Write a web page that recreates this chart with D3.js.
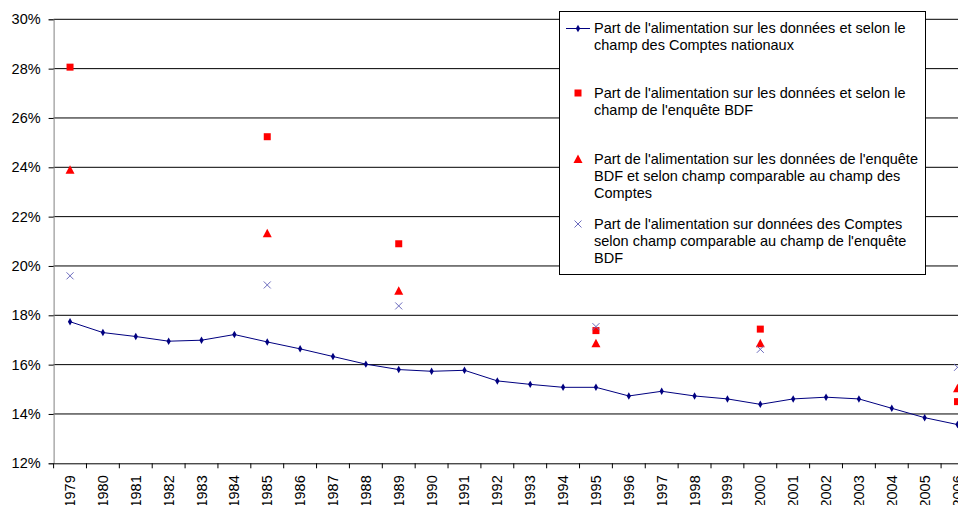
<!DOCTYPE html>
<html>
<head>
<meta charset="utf-8">
<script src="https://cdn.jsdelivr.net/npm/d3@7"></script>
<style>
  body { margin: 0; background: #fff; overflow: hidden; }
  svg { display: block; font-family: "Liberation Sans", Arial, sans-serif; }
</style>
</head>
<body>
<div id="chart"></div>
<script>
// categories
var years = [1979, 1980, 1981, 1982, 1983, 1984, 1985, 1986, 1987, 1988, 1989, 1990, 1991, 1992,
             1993, 1994, 1995, 1996, 1997, 1998, 1999, 2000, 2001, 2002, 2003, 2004, 2005, 2006];
// Comptes nationaux (%), one value per year
var comptesNat = [17.74, 17.30, 17.14, 16.95, 16.99, 17.22, 16.92, 16.64, 16.33, 16.02, 15.80, 15.73, 15.77, 15.34,
                  15.20, 15.08, 15.08, 14.73, 14.92, 14.73, 14.61, 14.39, 14.61, 14.68, 14.61, 14.23, 13.85, 13.57];
// survey years (enquete BDF)
var bdfYears = [1979, 1985, 1989, 1995, 2000, 2006];
var bdfChampBdf = [28.06, 25.24, 20.90, 17.38, 17.44, 14.50];
var bdfChampComptes = [23.90, 21.33, 19.00, 16.87, 16.87, 15.04];
var comptesChampBdf = [19.60, 19.23, 18.38, 17.54, 16.62, 15.89];
var yTicks = [12, 14, 16, 18, 20, 22, 24, 26, 28, 30];

var legendLabels = [
    ["Part de l'alimentation sur les données et selon le", "champ des Comptes nationaux"],
    ["Part de l'alimentation sur les données et selon le", "champ de l'enquête BDF"],
    ["Part de l'alimentation sur les données de l'enquête", "BDF et selon champ comparable au champ des", "Comptes"],
    ["Part de l'alimentation sur données des Comptes", "selon champ comparable au champ de l'enquête", "BDF"]
];

var width = 958,
    height = 505,
    plotLeft = 53.6,
    plotTop = 19.3,
    plotBottom = 463.3,
    bandW = 32.87,
    fontFam = '"Liberation Sans", Arial, sans-serif';

var navy = '#000080',
    red = '#ff0000',
    crossColor = '#6b6bbd';

var svg = d3.select('#chart').append('svg').attr('width', width).attr('height', height);

var x = d3.scaleBand().domain(years).range([plotLeft, plotLeft + bandW * years.length]).padding(0);
var y = d3.scaleLinear().domain([12, 30]).range([plotBottom, plotTop]);
var cx = function(yr) { return x(yr) + x.bandwidth() / 2; };

// gridlines
svg.append('g').selectAll('line').data(yTicks.slice(1)).enter().append('line')
    .attr('x1', plotLeft).attr('x2', width)
    .attr('y1', function(d) { return y(d); }).attr('y2', function(d) { return y(d); })
    .attr('stroke', '#000').attr('stroke-width', 1);

// y axis
var yAxis = d3.axisLeft(y).tickValues(yTicks).tickSize(5).tickPadding(8)
    .tickFormat(function(d) { return d + '%'; });
var gy = svg.append('g').attr('transform', 'translate(' + plotLeft + ',0)').call(yAxis);
gy.select('.domain').attr('stroke', '#808080');
gy.selectAll('.tick line').attr('stroke', '#000');
gy.selectAll('text').attr('font-size', 14.5).attr('fill', '#000').attr('font-family', fontFam);

// x axis: labels at centers, ticks at category boundaries
var xAxis = d3.axisBottom(x).tickSize(0).tickPadding(0);
var gx = svg.append('g').attr('transform', 'translate(0,' + plotBottom + ')').call(xAxis);
gx.select('.domain').attr('stroke', '#000');
gx.selectAll('text')
    .attr('font-size', 14.5).attr('fill', '#000').attr('font-family', fontFam)
    .attr('text-anchor', 'end')
    .attr('transform', 'translate(5,12) rotate(-90)')
    .attr('dy', 0).attr('y', 0).attr('x', 0);
gx.selectAll('.bound').data(years).enter().append('line')
    .attr('class', 'bound')
    .attr('x1', function(d) { return x(d); }).attr('x2', function(d) { return x(d); })
    .attr('y1', 0).attr('y2', 5).attr('stroke', '#000');

// Comptes nationaux line
var line = d3.line().x(function(d, i) { return cx(years[i]); }).y(function(d) { return y(d); });
svg.append('path').datum(comptesNat).attr('d', line)
    .attr('fill', 'none').attr('stroke', navy).attr('stroke-width', 1);
var diamond = d3.symbol().type(d3.symbolDiamond).size(16);
svg.append('g').selectAll('path').data(comptesNat).enter().append('path')
    .attr('d', diamond)
    .attr('transform', function(d, i) { return 'translate(' + cx(years[i]) + ',' + y(d) + ')'; })
    .attr('fill', navy);

// markers
function squareAt(g, px, py) {
    g.append('rect').attr('x', px - 3.5).attr('y', py - 3.5).attr('width', 7).attr('height', 7).attr('fill', red);
}
function triangleAt(g, px, py) {
    g.append('path').attr('d', 'M' + px + ',' + (py - 4.5) + 'L' + (px + 4.5) + ',' + (py + 4) + 'L' + (px - 4.5) + ',' + (py + 4) + 'Z')
        .attr('fill', red);
}
function crossAt(g, px, py) {
    g.append('path').attr('d', 'M' + (px - 3.5) + ',' + (py - 3.5) + 'L' + (px + 3.5) + ',' + (py + 3.5) +
        'M' + (px + 3.5) + ',' + (py - 3.5) + 'L' + (px - 3.5) + ',' + (py + 3.5))
        .attr('stroke', crossColor).attr('stroke-width', 1).attr('fill', 'none');
}

var marks = svg.append('g');
bdfYears.forEach(function(yr, i) {
    squareAt(marks, cx(yr), y(bdfChampBdf[i]));
    triangleAt(marks, cx(yr), y(bdfChampComptes[i]));
    crossAt(marks, cx(yr), y(comptesChampBdf[i]));
});

// legend
var lg = svg.append('g');
lg.append('rect').attr('x', 559.5).attr('y', 11.5).attr('width', 366).attr('height', 263)
    .attr('fill', '#fff').attr('stroke', '#000').attr('stroke-width', 1);
var entryTop = [28, 93, 159, 224];
legendLabels.forEach(function(lines, i) {
    var t = lg.append('text').attr('x', 594).attr('y', entryTop[i] + 5)
        .attr('font-size', 14.5).attr('fill', '#000').attr('font-family', fontFam);
    lines.forEach(function(s, j) {
        t.append('tspan').attr('x', 594).attr('dy', j === 0 ? 0 : 17).text(s);
    });
});
lg.append('line').attr('x1', 566).attr('x2', 590).attr('y1', 28.5).attr('y2', 28.5).attr('stroke', navy);
lg.append('path').attr('d', diamond).attr('transform', 'translate(578,28.5)').attr('fill', navy);
squareAt(lg, 578, 93);
triangleAt(lg, 578, 159);
crossAt(lg, 578, 224);
</script>
</body>
</html>
